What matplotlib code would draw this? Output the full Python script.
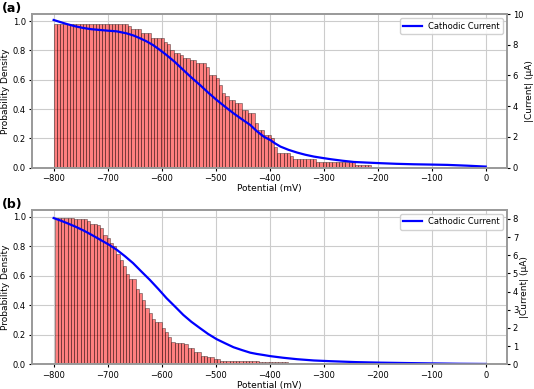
import numpy as np
import matplotlib
matplotlib.use('Agg')
import matplotlib.pyplot as plt

# ---------------------------------------------------------------------------
# Data (histogram bins are 6 mV wide)
# ---------------------------------------------------------------------------
BIN_W = 6.0

# panel (a): bins start at -800 mV
a_bin_start = -800.0
a_density = [
    0.98, 0.98, 0.98, 0.98, 0.98, 0.98, 0.98, 0.98, 0.98, 0.98,
    0.98, 0.98, 0.98, 0.98, 0.98, 0.98, 0.98, 0.98, 0.98, 0.98,
    0.98, 0.98, 0.98, 0.966, 0.943, 0.943, 0.943, 0.92, 0.92, 0.92,
    0.882, 0.882, 0.882, 0.882, 0.859, 0.841, 0.802, 0.784, 0.784, 0.766,
    0.75, 0.75, 0.734, 0.734, 0.716, 0.716, 0.716, 0.689, 0.632, 0.632,
    0.609, 0.564, 0.507, 0.489, 0.461, 0.461, 0.439, 0.439, 0.393, 0.393,
    0.371, 0.371, 0.303, 0.257, 0.257, 0.223, 0.223, 0.20, 0.14, 0.098,
    0.098, 0.098, 0.098, 0.08, 0.059, 0.059, 0.059, 0.059, 0.059, 0.059,
    0.059, 0.041, 0.041, 0.041, 0.041, 0.041, 0.041, 0.041, 0.041, 0.041,
    0.041, 0.041, 0.041, 0.018, 0.018, 0.018, 0.018, 0.018,
]
a_pot = [-800, -788, -776, -760, -745, -730, -714, -698, -683, -665, -652,
         -640, -628, -616, -604, -591, -575, -560, -545, -529, -514, -498,
         -482, -467, -451, -436, -424, -411, -399, -390, -380, -365, -349,
         -334, -318, -302, -287, -265, -244, -220, -194, -165, -133, -100,
         -71, -35, 0]
a_current = [9.61, 9.48, 9.35, 9.20, 9.09, 9.01, 8.96, 8.91, 8.87, 8.74, 8.60,
             8.42, 8.22, 7.98, 7.68, 7.33, 6.86, 6.36, 5.87, 5.38, 4.89, 4.40,
             3.95, 3.54, 3.14, 2.78, 2.38, 2.02, 1.80, 1.58, 1.37, 1.16, 0.98,
             0.84, 0.72, 0.63, 0.55, 0.45, 0.37, 0.33, 0.29, 0.25, 0.22, 0.20,
             0.18, 0.13, 0.07]

# panel (b): bins start at -798 mV
b_bin_start = -798.0
b_density = [
    0.993, 0.993, 0.993, 0.993, 0.993, 0.993, 0.986, 0.986, 0.986, 0.986,
    0.97, 0.954, 0.954, 0.948, 0.925, 0.88, 0.857, 0.823, 0.80, 0.75,
    0.71, 0.664, 0.614, 0.578, 0.578, 0.51, 0.483, 0.437, 0.381, 0.347,
    0.308, 0.29, 0.29, 0.245, 0.222, 0.188, 0.154, 0.147, 0.147, 0.147,
    0.138, 0.109, 0.109, 0.086, 0.086, 0.056, 0.056, 0.048, 0.048, 0.034,
    0.034, 0.025, 0.025, 0.025, 0.025, 0.025, 0.025, 0.025, 0.025, 0.025,
    0.025, 0.025, 0.025, 0.014, 0.014, 0.014, 0.014, 0.014, 0.014, 0.014,
    0.014, 0.014, 0.012, 0.012, 0.012, 0.012, 0.012, 0.012, 0.012, 0.012,
    0.012, 0.012, 0.012, 0.012, 0.008, 0.008, 0.008, 0.008, 0.008, 0.008,
    0.008, 0.008, 0.008, 0.008, 0.008, 0.008, 0.008, 0.008, 0.008, 0.008,
    0.008, 0.008, 0.008, 0.008, 0.008, 0.008, 0.008, 0.008, 0.008, 0.008,
    0.008,
]
b_pot = [-800, -788, -776, -760, -745, -730, -714, -698, -683, -668, -653,
         -638, -622, -606, -591, -575, -560, -545, -529, -514, -498, -482,
         -467, -451, -436, -424, -411, -399, -375, -349, -318, -287, -240,
         -194, -150, -102, -50, 0]
b_current = [8.05, 7.92, 7.78, 7.58, 7.37, 7.13, 6.86, 6.59, 6.30, 5.95, 5.57,
             5.12, 4.65, 4.14, 3.64, 3.17, 2.72, 2.34, 1.99, 1.67, 1.38, 1.15,
             0.94, 0.78, 0.64, 0.57, 0.51, 0.45, 0.36, 0.28, 0.21, 0.17, 0.12,
             0.09, 0.07, 0.05, 0.03, 0.02]

PANELS = [
    ('(a)', a_bin_start, a_density, a_pot, a_current, 10, [0, 2, 4, 6, 8, 10]),
    ('(b)', b_bin_start, b_density, b_pot, b_current, 8.5, list(range(0, 9))),
]

# ---------------------------------------------------------------------------
# Figure
# ---------------------------------------------------------------------------
fig = plt.figure(figsize=(5.34, 3.89), dpi=100)
rects = [[0.060, 0.569, 0.890, 0.395], [0.060, 0.0635, 0.890, 0.397]]

for rect, (tag, start, dens, pot, cur, ytop, rticks) in zip(rects, PANELS):
    ax = fig.add_axes(rect)
    left = start + BIN_W * np.arange(len(dens))
    ax.bar(left, dens, width=BIN_W, align='edge',
           color='red', alpha=0.5, edgecolor='black', linewidth=0.5)
    ax.set_xlim(-840, 40)
    ax.set_ylim(0, 1.048)
    ax.set_xticks(np.arange(-800, 1, 100))
    ax.set_yticks(np.arange(0, 1.01, 0.2))
    ax.grid(True, color='0.8', lw=0.8)
    ax.set_axisbelow(True)
    ax.set_ylabel('Probability Density', fontsize=6.5, labelpad=2)
    ax.set_xlabel('Potential (mV)', fontsize=6.5, labelpad=1)
    ax.tick_params(labelsize=6, length=2.5, pad=2)

    ax2 = ax.twinx()
    ax2.plot(pot, cur, color='blue', lw=1.6, label='Cathodic Current')
    ax2.set_ylim(0, ytop)
    ax2.set_yticks(rticks)
    ax2.set_ylabel('|Current| (µA)', fontsize=6.5, labelpad=1)
    ax2.tick_params(labelsize=6, length=2.5, pad=1.5)
    ax2.legend(loc='upper right', fontsize=6, handlelength=2.2,
               borderpad=0.4, framealpha=0.9)

    for a in (ax, ax2):
        for sp in a.spines.values():
            sp.set_color('0.6')
            sp.set_linewidth(1.2)

    fig.text(0.004, rect[1] + rect[3] - 0.002, tag, fontsize=9,
             fontweight='bold', va='bottom', ha='left')

fig.savefig('out.png', dpi=100)
